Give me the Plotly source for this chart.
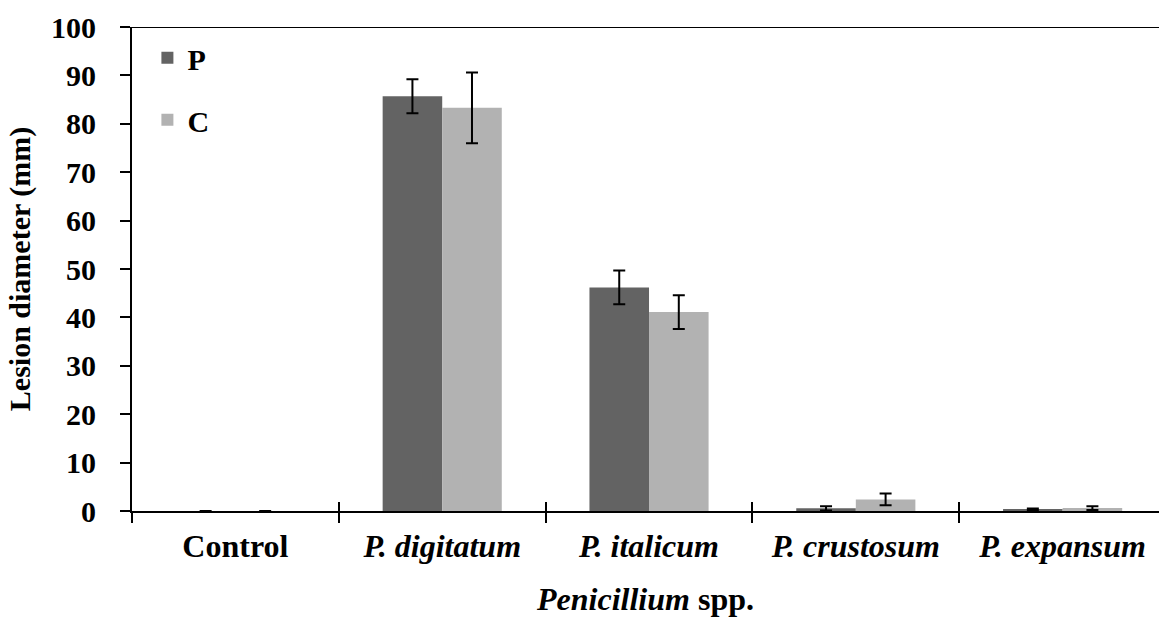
import plotly.graph_objects as go

categories = ["Control", "P. digitatum", "P. italicum", "P. crustosum", "P. expansum"]
tick_labels = ["Control", "<i>P. digitatum</i>", "<i>P. italicum</i>",
               "<i>P. crustosum</i>", "<i>P. expansum</i>"]
p_values = [0.0, 85.7, 46.2, 0.55, 0.3]
p_errors = [0.0, 3.5, 3.5, 0.45, 0.2]
c_values = [0.0, 83.3, 41.1, 2.4, 0.6]
c_errors = [0.0, 7.3, 3.5, 1.2, 0.4]
y_ticks = [0, 10, 20, 30, 40, 50, 60, 70, 80, 90, 100]

FONT = "Liberation Serif"

fig = go.Figure()
fig.add_trace(go.Bar(
    x=categories, y=p_values, name="P", legendgroup="P",
    marker=dict(color="#636363", line=dict(width=0)),
    error_y=dict(type="data", array=p_errors, color="black", thickness=2, width=6),
))
fig.add_trace(go.Bar(
    x=categories, y=c_values, name="C", legendgroup="C",
    marker=dict(color="#b2b2b2", line=dict(width=0)),
    error_y=dict(type="data", array=c_errors, color="black", thickness=2, width=6),
))
# invisible trace on an overlaid axis to draw inward category boundary ticks
fig.add_trace(go.Bar(
    x=categories, y=[0] * len(categories), xaxis="x2", showlegend=False,
    hoverinfo="skip", opacity=0,
))

xrange = [-0.5, 4.466]
fig.update_layout(
    width=1159, height=620,
    margin=dict(l=132, r=0, t=27, b=109),
    paper_bgcolor="white", plot_bgcolor="white",
    font=dict(family=FONT, size=30, color="black", weight="bold"),
    barmode="group", bargap=0.424, bargroupgap=0,
    showlegend=True,
    legend=dict(x=0.015, y=0.99, xanchor="left", yanchor="top",
                bgcolor="rgba(0,0,0,0)", font=dict(size=30, family=FONT, weight="bold"),
                traceorder="grouped", tracegroupgap=20, itemwidth=30),
    xaxis=dict(
        type="category", categoryorder="array", categoryarray=categories,
        range=xrange, tickmode="array", tickvals=categories, ticktext=tick_labels,
        tickson="boundaries", ticks="outside", ticklen=10, tickwidth=1.5, tickcolor="black",
        showline=True, linecolor="black", linewidth=2, mirror=False,
        showgrid=False, zeroline=False,
        tickfont=dict(size=32, family=FONT, weight="bold"), ticklabelstandoff=6,
        title=dict(text="<i>Penicillium</i> spp.", font=dict(size=32, family=FONT, weight="bold"), standoff=24),
    ),
    xaxis2=dict(
        type="category", categoryorder="array", categoryarray=categories,
        overlaying="x", matches="x", anchor="y", side="bottom", range=xrange,
        tickson="boundaries", ticks="inside", ticklen=9, tickwidth=1.5, tickcolor="black",
        showticklabels=False, showgrid=False, zeroline=False, showline=False,
    ),
    yaxis=dict(
        range=[0, 100], tickvals=y_ticks, ticks="outside", ticklen=10, tickwidth=1.5,
        tickcolor="black", showline=True, linecolor="black", linewidth=2,
        showgrid=False, zeroline=False,
        tickfont=dict(size=30, family=FONT, weight="bold"), ticklabelstandoff=18,
        title=dict(text="Lesion diameter (mm)", font=dict(size=30, family=FONT, weight="bold"), standoff=12),
    ),
    shapes=[dict(type="line", xref="paper", yref="y", x0=-0.0087, x1=1, y0=100, y1=100,
                 line=dict(color="black", width=2))],
)

fig.write_html("out.html")
